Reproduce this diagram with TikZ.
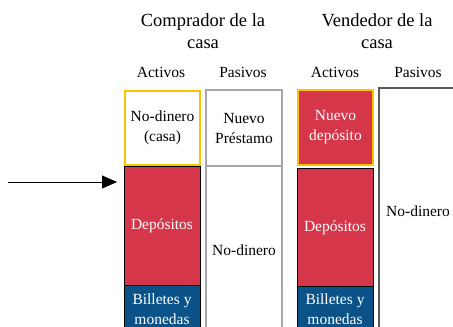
\documentclass[tikz,border=0pt]{standalone}
\usepackage{fontspec}
\setmainfont{Liberation Serif}
\usetikzlibrary{arrows.meta}
\definecolor{depred}{HTML}{D63649}
\definecolor{billblue}{HTML}{0A5288}
\definecolor{hiyellow}{HTML}{FFC000}
\definecolor{lgray}{HTML}{A6A6A6}
\definecolor{dgray}{HTML}{595959}
\tikzset{
  head/.style={font=\fontsize{18.5}{22}\selectfont, align=center, inner sep=0pt},
  sub/.style={font=\fontsize{15.5}{20}\selectfont, inner sep=0pt},
  cell/.style={rectangle, inner sep=0pt, align=center, font=\fontsize{15.5}{20}\selectfont},
  hilite/.style={cell, draw=hiyellow, line width=2.6pt},
  redcell/.style={cell, fill=depred, draw=black, line width=0.8pt, text=white},
  bluecell/.style={cell, fill=billblue, draw=black, line width=0.8pt, text=white},
  grayframe/.style={cell, draw=lgray, line width=2pt},
  darkframe/.style={cell, draw=dgray, line width=1.6pt},
}
\begin{document}
\begin{tikzpicture}[x=1pt, y=-1pt]
\useasboundingbox (0,0) rectangle (453,327);
\clip (0,0) rectangle (453,327);
% headers
\node[head] (hbuy) at (203,31) {Comprador de la\\casa};
\node[head] (hsell) at (377,31) {Vendedor de la\\casa};
\node[sub] (ba) at (161,72) {Activos};
\node[sub] (bp) at (243,72) {Pasivos};
\node[sub] (sa) at (335,72) {Activos};
\node[sub] (sp) at (418,72) {Pasivos};
% buyer assets
\node[redcell, minimum width=76pt, minimum height=120pt] (bdep) at (162,226) {Depósitos};
\node[bluecell, minimum width=76pt, minimum height=48pt] (bbil) at (162,309) {Billetes y\\monedas};
\node[hilite, minimum width=75pt, minimum height=74pt] (bnd) at (162.5,128) {No-dinero\\(casa)};
% buyer liabilities
\node[grayframe, minimum width=76pt, minimum height=76pt] (bnp) at (244,128) {Nuevo\\Préstamo};
\node[grayframe, minimum width=76pt, minimum height=168pt] (bnd2) at (244,250) {No-dinero};
% seller assets
\node[redcell, minimum width=76pt, minimum height=119pt] (sdep) at (335,227.5) {Depósitos};
\node[bluecell, minimum width=76pt, minimum height=46pt] (sbil) at (335,309) {Billetes y\\monedas};
\node[cell, fill=depred, text=white, draw=hiyellow, line width=2.6pt, minimum width=75pt, minimum height=75pt] (snd) at (335.5,127.5) {Nuevo\\depósito};
% seller liabilities
\node[darkframe, minimum width=78pt, minimum height=247pt] (snd2) at (418,211.5) {No-dinero};
% arrow
\coordinate (astart) at (8,182);
\coordinate (aend) at (117,182);
\draw[line width=0.9pt, -{Triangle[length=15pt, width=13pt]}] (astart) -- (aend);
\end{tikzpicture}
\end{document}
